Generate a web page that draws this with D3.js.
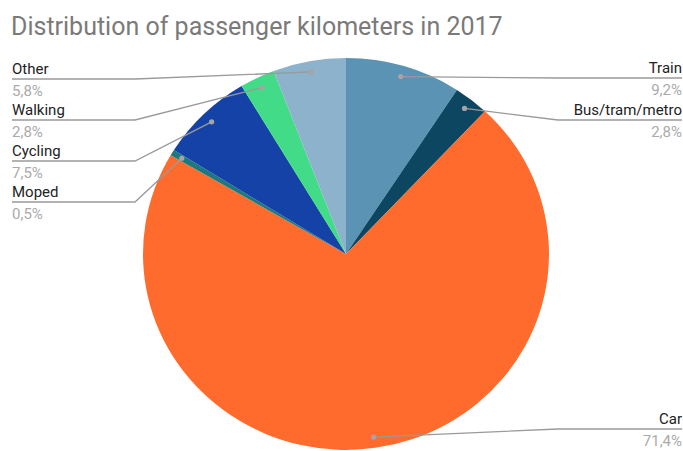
<!DOCTYPE html>
<html>
<head>
<meta charset="utf-8">
<script src="https://cdn.jsdelivr.net/npm/d3@7"></script>
<style>
  html, body { margin: 0; padding: 0; background: #fff; }
  svg { display: block; }
</style>
</head>
<body>
<svg id="chart" width="683" height="451"></svg>
<script>
// Share of passenger kilometres by mode, 2017 (percent)
const modes = ["Train", "Bus/tram/metro", "Car", "Moped", "Cycling", "Walking", "Other"];
const shares = [9.2, 2.8, 71.4, 0.5, 7.5, 2.8, 5.8];
const valueLabels = ["9,2%", "2,8%", "71,4%", "0,5%", "7,5%", "2,8%", "5,8%"];
const colors = ["#5b93b4", "#0d4661", "#fe6b2c", "#1c7a7e", "#1442a7", "#42db87", "#8cb3cb"];

// Label placement: side and the y of each leader's underline
const labelSide = ["right", "right", "right", "left", "left", "left", "left"];
const labelLineY = [78, 120, 429, 202, 161, 120, 79];

const W = 683, H = 451;
const cx = 346, cy = 254, R = 203, squash = 0.965;
const leftX = 12, rightX = 682, leftBend = 135, rightBend = 558;

const svg = d3.select("#chart");

svg.append("text")
  .attr("x", 11).attr("y", 35)
  .attr("font-family", "Roboto, Arial, sans-serif")
  .attr("font-size", 25)
  .attr("fill", "#7a7a7a")
  .text("Distribution of passenger kilometers in 2017");

const pie = d3.pie().sort(null).value(d => d)(shares);
const arc = d3.arc().innerRadius(0).outerRadius(R);
const dotArc = d3.arc().innerRadius(R * 0.945).outerRadius(R * 0.945);

const g = svg.append("g").attr("transform", `translate(${cx},${cy}) scale(1,${squash})`);
g.selectAll("path.slice")
  .data(pie)
  .join("path")
  .attr("class", "slice")
  .attr("d", arc)
  .attr("fill", (d, i) => colors[i]);

const labels = pie.map((d, i) => {
  const c = dotArc.centroid(d);
  return {
    i,
    dot: [cx + c[0], cy + c[1] * squash],
    side: labelSide[i],
    y: labelLineY[i]
  };
});

const lg = svg.append("g");
labels.forEach(l => {
  const bendX = l.side === "right" ? rightBend : leftBend;
  const endX = l.side === "right" ? rightX : leftX;
  lg.append("path")
    .attr("d", d3.line()([l.dot, [bendX, l.y], [endX, l.y]]))
    .attr("fill", "none")
    .attr("stroke", "#9a9a9a")
    .attr("stroke-width", 1.3);
  lg.append("circle")
    .attr("cx", l.dot[0]).attr("cy", l.dot[1]).attr("r", 2.6)
    .attr("fill", "#a5a5a5");
  const anchor = l.side === "right" ? "end" : "start";
  lg.append("text")
    .attr("x", endX).attr("y", l.y - 5)
    .attr("text-anchor", anchor)
    .attr("font-family", "Roboto, Arial, sans-serif")
    .attr("font-size", 15)
    .attr("fill", "#222")
    .text(modes[l.i]);
  lg.append("text")
    .attr("x", endX).attr("y", l.y + 17)
    .attr("text-anchor", anchor)
    .attr("font-family", "Roboto, Arial, sans-serif")
    .attr("font-size", 15)
    .attr("fill", "#aaa")
    .text(valueLabels[l.i]);
});
</script>
</body>
</html>
